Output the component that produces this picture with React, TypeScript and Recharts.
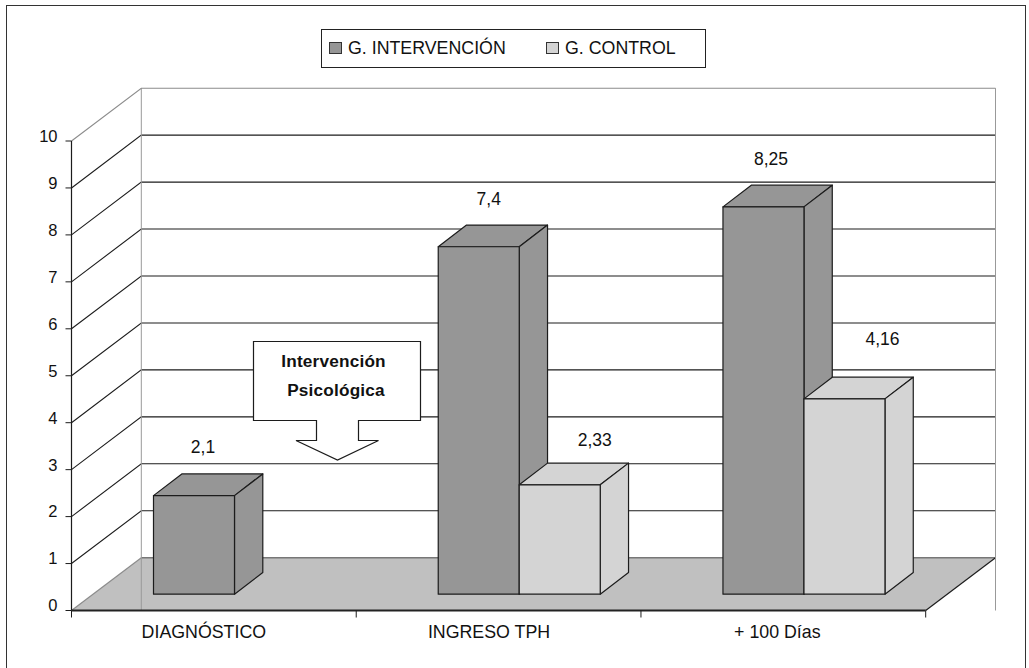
import { Bar, BarChart, CartesianGrid, LabelList, Legend, XAxis, YAxis } from "recharts";

const categories = ["DIAGNÓSTICO", "INGRESO TPH", "+ 100 Días"];
const intervencion = [2.1, 7.4, 8.25];
const control = [null, 2.33, 4.16];
const yTicks = [0, 1, 2, 3, 4, 5, 6, 7, 8, 9, 10];

// labels were placed by hand in the original, so each one has its own nudge
// (LabelList skips the empty control bar, so control only has two entries)
const intervencionNudge = [[9, -49], [10, -48], [7.5, -48]];
const controlNudge = [[35, -45], [38, -60]];

const rows = categories.map((name, i) => ({
  name,
  intervencion: intervencion[i],
  control: control[i],
}));

const FONT = "'Liberation Sans', Arial, sans-serif";
const INK = "#1c1c1c";
const WALL = "#8c8c8c";

// 3d projection: back wall offset, bar base offset, bar depth
const WALL_DX = 69.8;
const WALL_DY = -52.8;
const BASE_DX = 21;
const BASE_DY = -16.3;
const BAR_DX = 28.3;
const BAR_DY = -21.7;

function GridLine3D(props: any) {
  const { x1, x2, y1, index } = props;
  const bx1 = x1 + WALL_DX;
  const bx2 = x2 + WALL_DX;
  const by = y1 + WALL_DY;
  if (index === 0 || y1 > 600) {
    return (
      <g>
        <polygon points={`${x1},${y1} ${x2},${y1} ${bx2},${by} ${bx1},${by}`} fill="#c0c0c0" />
        <line x1={x1} y1={y1} x2={bx1} y2={by} stroke={WALL} strokeWidth={1.2} />
        <line x1={bx1} y1={by} x2={bx2} y2={by} stroke="#777" strokeWidth={1.4} />
        <line x1={x2} y1={y1} x2={bx2} y2={by} stroke={INK} strokeWidth={1.2} />
      </g>
    );
  }
  const isTop = y1 < 150;
  const stroke = isTop ? WALL : INK;
  return (
    <g>
      {isTop && (
        <>
          <line x1={bx1} y1={by} x2={bx1} y2={by - WALL_DY + 469.5} stroke="#999" strokeWidth={1} />
          <line x1={bx2} y1={by} x2={bx2} y2={by - WALL_DY + 469.5} stroke="#999" strokeWidth={1} />
        </>
      )}
      <polyline points={`${x1},${y1} ${bx1},${by} ${bx2},${by}`} fill="none" stroke={stroke} strokeWidth={1.1} />
    </g>
  );
}

function Bar3D(props: any) {
  const { x, y, width, height, fill, value } = props;
  if (value == null || !height) return null;
  const fx = x + BASE_DX;
  const fy = y + BASE_DY;
  const r = fx + width;
  return (
    <g stroke={INK} strokeWidth={1.2} strokeLinejoin="round" fill={fill}>
      <polygon points={`${fx},${fy} ${r},${fy} ${r + BAR_DX},${fy + BAR_DY} ${fx + BAR_DX},${fy + BAR_DY}`} />
      <polygon points={`${r},${fy} ${r + BAR_DX},${fy + BAR_DY} ${r + BAR_DX},${fy + height + BAR_DY} ${r},${fy + height}`} />
      <rect x={fx} y={fy} width={width} height={height} />
    </g>
  );
}

const valueLabel = (nudge: number[][]) => (props: any) => {
  const { x, y, width, value, index } = props;
  if (value == null) return null;
  return (
    <text
      x={x + BASE_DX + width / 2 + nudge[index][0]}
      y={y + BASE_DY + nudge[index][1]}
      textAnchor="middle"
      dominantBaseline="central"
      fontFamily={FONT}
      fontSize={17.5}
      fill="#111"
    >
      {String(value).replace(".", ",")}
    </text>
  );
};

// ticks sit on the category borders, the labels a bit left of the band centre
const labelShift = [-10, -9.6, -6];
function CategoryTick(props: any) {
  const { x, y, payload, index } = props;
  const half = payload.offset ?? 142.35;
  const top = y - 8;
  return (
    <g>
      <line x1={x - half} y1={top} x2={x - half} y2={top + 7} stroke={INK} />
      {index === categories.length - 1 && <line x1={x + half} y1={top} x2={x + half} y2={top + 7} stroke={INK} />}
      <text x={x + labelShift[index]} y={top + 21} textAnchor="middle" dominantBaseline="central" fontFamily={FONT} fontSize={17.8} fill="#111">
        {payload.value}
      </text>
    </g>
  );
}

function LegendBox({ payload }: any) {
  return (
    <div
      style={{
        boxSizing: "border-box",
        width: 385,
        height: 39,
        border: "1.4px solid #222",
        background: "#fff",
        display: "flex",
        alignItems: "center",
        paddingLeft: 7,
        fontFamily: FONT,
        fontSize: 17.8,
        color: "#111",
      }}
    >
      {(payload ?? []).map((item: any) => (
        <div key={item.value} style={{ flex: "0 0 217px", display: "flex", alignItems: "center" }}>
          <span style={{ boxSizing: "border-box", width: 13, height: 12, background: item.color, border: "1.2px solid #333", marginRight: 6 }} />
          {item.value}
        </div>
      ))}
    </div>
  );
}

function Callout() {
  return (
    <svg width={1029} height={668} style={{ position: "absolute", left: 0, top: 0, pointerEvents: "none" }}>
      <polygon
        points="253.5,341.5 420.5,341.5 420.5,420.5 358.5,420.5 358.5,440.5 378.5,440.5 337.5,460 296,440.5 316.5,440.5 316.5,420.5 253.5,420.5"
        fill="#fff"
        stroke={INK}
        strokeWidth={1.2}
      />
      <g fontFamily={FONT} fontSize={17.2} fontWeight="bold" textAnchor="middle" fill="#111" dominantBaseline="central" letterSpacing={0.2}>
        <text x={333.5} y={361}>Intervención</text>
        <text x={336} y={390}>Psicológica</text>
      </g>
    </svg>
  );
}

export default function App() {
  return (
    <div style={{ position: "absolute", left: 0, top: 0, width: 1029, height: 668, overflow: "hidden", background: "#fff" }}>
      <div style={{ position: "absolute", left: 6, top: 5, width: 1018, height: 720, border: "1.6px solid #333" }} />
      <BarChart
        width={1029}
        height={668}
        data={rows}
        margin={{ top: 141, left: 31.5, right: 103.3, bottom: 27.5 }}
        barCategoryGap={61}
        barGap={0}
        style={{ position: "absolute", left: 0, top: 0 }}
      >
        <CartesianGrid vertical={false} horizontal={GridLine3D as any} />
        <XAxis dataKey="name" height={30} axisLine={{ stroke: "#222", strokeWidth: 2 }} tickLine={false} tick={CategoryTick as any} interval={0} />
        <YAxis
          width={40}
          domain={[0, 10]}
          ticks={yTicks}
          interval={0}
          axisLine={{ stroke: INK, strokeWidth: 1.2 }}
          tickLine={{ stroke: INK }}
          tickSize={6}
          tickMargin={8}
          tick={{ fontFamily: FONT, fontSize: 16.5, fill: "#111", dy: -5 }}
        />
        <Legend
          layout="horizontal"
          verticalAlign="middle"
          itemSorter={null as any}
          content={LegendBox as any}
          wrapperStyle={{ position: "absolute", left: 321, top: 28.5, width: 385, height: 39 }}
        />
        <Bar dataKey="intervencion" name="G. INTERVENCIÓN" fill="#969696" shape={Bar3D as any} isAnimationActive={false}>
          <LabelList dataKey="intervencion" content={valueLabel(intervencionNudge) as any} />
        </Bar>
        <Bar dataKey="control" name="G. CONTROL" fill="#d4d4d4" shape={Bar3D as any} isAnimationActive={false}>
          <LabelList dataKey="control" content={valueLabel(controlNudge) as any} />
        </Bar>
      </BarChart>
      <Callout />
    </div>
  );
}
